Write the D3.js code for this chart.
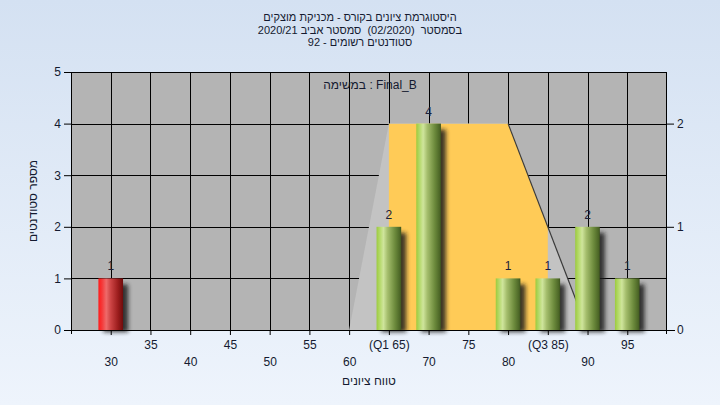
<!DOCTYPE html>
<html>
<head>
<meta charset="utf-8">
<script src="https://cdn.jsdelivr.net/npm/d3@7/dist/d3.min.js"></script>
<style>
  html, body { margin: 0; padding: 0; }
  svg { display: block; }
  text { font-family: "Liberation Sans", "DejaVu Sans", Arial, sans-serif; }
</style>
</head>
<body>
<script>
// ---- data ----
const titleLines = [
  "היסטוגרמת ציונים בקורס - מכניקת מוצקים",
  "בסמסטר  (02/2020)  סמסטר אביב 2020/21",
  "סטודנטים רשומים - 92"
];
const taskLabel = "במשימה : Final_B";
const yAxisTitle = "מספר סטודנטים";
const xAxisTitle = "טווח ציונים";

const categories = [30, 65, 70, 80, 85, 90, 95];
const counts     = [1, 2, 4, 1, 1, 2, 1];
const barKinds   = ["fail", "pass", "pass", "pass", "pass", "pass", "pass"];

const xTickValues = [30, 35, 40, 45, 50, 55, 60, 65, 70, 75, 80, 85, 90, 95];
const xTickLabels = ["30", "35", "40", "45", "50", "55", "60", "(Q1 65)", "70", "75", "80", "(Q3 85)", "90", "95"];
const yTicks  = [0, 1, 2, 3, 4, 5];
const y2Ticks = [0, 1, 2];

// box shape (secondary axis): min, Q1, median, max outline and Q1..Q3 box
const boxX  = [60, 65, 80, 90];
const boxY2 = [0, 2, 2, 0];
const boxQ  = [65, 85];

// ---- layout ----
const W = 720, H = 405;
const m = { left: 71, right: 667, top: 72, bottom: 330 };

const svg = d3.select("body").append("svg").attr("width", W).attr("height", H);
const defs = svg.append("defs");

const bg = defs.append("linearGradient").attr("id", "bg").attr("x1", 0).attr("y1", 0).attr("x2", 0).attr("y2", 1);
bg.append("stop").attr("offset", "0%").attr("stop-color", "#d4e1f2");
bg.append("stop").attr("offset", "100%").attr("stop-color", "#eef4fc");
svg.append("rect").attr("width", W).attr("height", H).attr("fill", "url(#bg)");

function cyl(id, stops) {
  const g = defs.append("linearGradient").attr("id", id).attr("x1", 0).attr("y1", 0).attr("x2", 1).attr("y2", 0);
  stops.forEach(s => g.append("stop").attr("offset", s[0]).attr("stop-color", s[1]));
}
cyl("gPass", [["0%", "#9ccb3e"], ["12%", "#b2d865"], ["28%", "#cfe59c"], ["45%", "#a4bd6c"], ["75%", "#6c8a3c"], ["95%", "#4b6526"], ["100%", "#3c521e"]]);
cyl("gFail", [["0%", "#ff1a1a"], ["15%", "#f43a3a"], ["32%", "#ee6a6a"], ["50%", "#cc4444"], ["80%", "#9a1c1c"], ["100%", "#6e0c0c"]]);

const blur = defs.append("filter").attr("id", "shadow").attr("x", "-50%").attr("y", "-20%").attr("width", "200%").attr("height", "140%");
blur.append("feGaussianBlur").attr("stdDeviation", 2);

const x  = d3.scaleLinear().domain([25, 100]).range([m.left, m.right]);
const y  = d3.scaleLinear().domain([0, 5]).range([m.bottom, m.top]);
const y2 = d3.scaleLinear().domain([0, 2.5]).range([m.bottom, m.top]);

// plot background
svg.append("rect")
  .attr("x", m.left).attr("y", m.top)
  .attr("width", m.right - m.left).attr("height", m.bottom - m.top)
  .attr("fill", "#b4b4b4");

// grid
const grid = svg.append("g").attr("stroke", "#000").attr("stroke-width", 1).attr("shape-rendering", "crispEdges");
yTicks.filter(v => v > 0 && v < 5).forEach(v => {
  grid.append("line").attr("x1", m.left).attr("x2", m.right)
    .attr("y1", Math.round(y(v)) + 0.5).attr("y2", Math.round(y(v)) + 0.5);
});
xTickValues.forEach(v => {
  grid.append("line").attr("y1", m.top).attr("y2", m.bottom)
    .attr("x1", Math.round(x(v)) + 0.5).attr("x2", Math.round(x(v)) + 0.5);
});

// box shape
const boxPts = boxX.map((v, i) => [x(v), y2(boxY2[i])]);
const boxPath = "M" + boxPts.map(p => p.join(",")).join("L") + "Z";
defs.append("clipPath").attr("id", "boxClip").append("path").attr("d", boxPath);
svg.append("path").attr("d", boxPath).attr("fill", "#c3c3c3");
svg.append("rect")
  .attr("clip-path", "url(#boxClip)")
  .attr("x", x(boxQ[0])).attr("y", y2(2))
  .attr("width", x(boxQ[1]) - x(boxQ[0])).attr("height", m.bottom - y2(2))
  .attr("fill", "#ffcb57");
svg.append("line")
  .attr("x1", boxPts[2][0]).attr("y1", boxPts[2][1])
  .attr("x2", boxPts[3][0]).attr("y2", boxPts[3][1])
  .attr("stroke", "#3a3a3a").attr("stroke-width", 1.2);

// bars
const barHalf = 1.55; // in score units
const bars = svg.append("g");
categories.forEach((c, i) => {
  const x0 = x(c - barHalf), x1 = x(c + barHalf), top = y(counts[i]);
  bars.append("rect")
    .attr("x", x0 + 5).attr("y", top + 6)
    .attr("width", x1 - x0).attr("height", m.bottom - top - 4)
    .attr("fill", "#1e1e1e").attr("opacity", 0.85)
    .attr("filter", "url(#shadow)");
});
categories.forEach((c, i) => {
  const x0 = x(c - barHalf), x1 = x(c + barHalf), top = y(counts[i]);
  bars.append("rect")
    .attr("x", x0).attr("y", top)
    .attr("width", x1 - x0).attr("height", m.bottom - top)
    .attr("fill", barKinds[i] === "fail" ? "url(#gFail)" : "url(#gPass)");
  bars.append("text")
    .attr("x", x(c)).attr("y", top - 8)
    .attr("text-anchor", "middle").attr("font-size", 12).attr("fill", "#1c2038")
    .text(counts[i]);
});

// frame
svg.append("rect")
  .attr("x", m.left + 0.5).attr("y", m.top + 0.5)
  .attr("width", m.right - m.left - 1).attr("height", m.bottom - m.top)
  .attr("fill", "none").attr("stroke", "#000").attr("shape-rendering", "crispEdges");

// axes
const axL = svg.append("g").attr("transform", `translate(${m.left},0)`)
  .call(d3.axisLeft(y).tickValues(yTicks).tickSize(7).tickSizeOuter(0).tickFormat(d3.format("d")));
const axR = svg.append("g").attr("transform", `translate(${m.right - 1},0)`)
  .call(d3.axisRight(y2).tickValues(y2Ticks).tickSize(8).tickSizeOuter(0).tickFormat(d3.format("d")));
const axB = svg.append("g").attr("transform", `translate(0,${m.bottom})`)
  .call(d3.axisBottom(x).tickValues(xTickValues).tickSize(5).tickSizeOuter(0)
    .tickFormat((d, i) => xTickLabels[i]));
[axL, axR, axB].forEach(a => {
  a.selectAll("path.domain").attr("stroke", "#000");
  a.selectAll("line").attr("stroke", "#000");
  a.selectAll("text").attr("font-size", 12).attr("fill", "#141a30")
    .attr("font-family", "\"Liberation Sans\", \"DejaVu Sans\", Arial, sans-serif");
});
axL.select("path.domain").attr("d", `M0.5,${m.top}V${m.bottom + 4}`);
axR.select("path.domain").attr("d", `M0.5,${m.top}V${m.bottom + 4}`);
axB.select("path.domain").attr("d", `M${m.left - 4},0.5H${m.right + 8}`);
axB.selectAll(".tick text")
  .attr("dy", 0)
  .attr("y", d => (d % 10 === 0 ? 36 : 19));

// axis titles
svg.append("text")
  .attr("transform", `translate(37,${(m.top + m.bottom) / 2}) rotate(-90)`)
  .attr("text-anchor", "middle").attr("font-size", 12).attr("fill", "#141a30")
  .text(yAxisTitle);
svg.append("text")
  .attr("x", (m.left + m.right) / 2).attr("y", 385)
  .attr("text-anchor", "middle").attr("font-size", 12).attr("fill", "#141a30")
  .text(xAxisTitle);

// task label
svg.append("text")
  .attr("x", 370).attr("y", 89)
  .attr("text-anchor", "middle").attr("font-size", 12).attr("fill", "#141a30")
  .text(taskLabel);

// title
titleLines.forEach((t, i) => {
  svg.append("text")
    .attr("x", 360).attr("y", 21 + i * 12.5)
    .attr("text-anchor", "middle").attr("direction", "rtl")
    .style("white-space", "pre")
    .attr("font-size", 11).attr("fill", "#141a30")
    .text(t);
});
</script>
</body>
</html>
